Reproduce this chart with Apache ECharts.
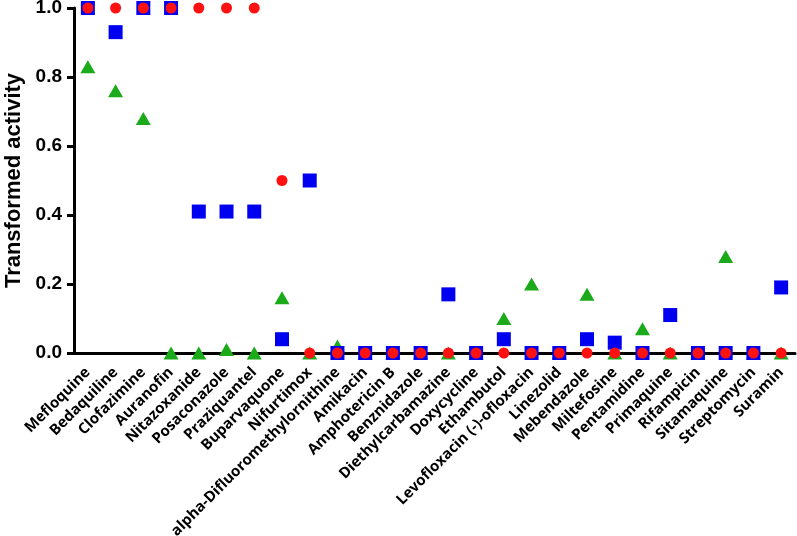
<!DOCTYPE html>
<html>
<head>
<meta charset="utf-8">
<script src="https://cdn.jsdelivr.net/npm/echarts@6/dist/echarts.min.js"></script>
<style>html,body{margin:0;padding:0;background:#fff}#c{width:797px;height:536px}</style>
</head>
<body>
<div id="c"></div>
<script>
var categories = ["Mefloquine","Bedaquiline","Clofazimine","Auranofin","Nitazoxanide","Posaconazole","Praziquantel","Buparvaquone","Nifurtimox","alpha-Difluoromethylornithine","Amikacin","Amphotericin B","Benznidazole","Diethylcarbamazine","Doxycycline","Ethambutol","Levofloxacin (-)-ofloxacin","Linezolid","Mebendazole","Miltefosine","Pentamidine","Primaquine","Rifampicin","Sitamaquine","Streptomycin","Suramin"];
var triangleValues = [0.83,0.76,0.68,0,0,0.01,0,0.16,0,0.02,0,0,0,0,0,0.10,0.20,0,0.17,0,0.07,0,0,0.28,0,0];
var squareValues = [1.0,0.93,1.0,1.0,0.41,0.41,0.41,0.04,0.50,0,0,0,0,0.17,0,0.04,0,0,0.04,0.03,0,0.11,0,0,0,0.19];
var circleValues = [1.0,1.0,1.0,1.0,1.0,1.0,1.0,0.5,0,0,0,0,0,0,0,0,0,0,0,0,0,0,0,0,0,0];
var yTicks = ["0.0","0.2","0.4","0.6","0.8","1.0"];

var chart = echarts.init(document.getElementById('c'), null, {renderer:'canvas'});
var catFont = "'Open Sans', 'Noto Sans', sans-serif";
var numFont = "'Liberation Sans', Arial, sans-serif";
chart.setOption({
  animation: false,
  grid: {left: 74, right: 2, top: 8, bottom: 183, containLabel: false, outerBoundsMode: 'none'},
  xAxis: {
    type: 'category',
    data: categories,
    boundaryGap: true,
    axisLine: {lineStyle: {color: '#000', width: 3}},
    axisTick: {alignWithLabel: true, length: 8, lineStyle: {color: '#000', width: 3}},
    axisLabel: {interval: 0, rotate: 45, margin: 17, color: '#000', fontWeight: 'bold', fontSize: 15, fontFamily: catFont}
  },
  yAxis: {
    type: 'value',
    min: 0, max: 1, interval: 0.2,
    name: 'Transformed activity',
    nameLocation: 'middle',
    nameGap: 48,
    nameTextStyle: {color: '#000', fontWeight: 'bold', fontSize: 22, fontFamily: numFont},
    splitLine: {show: false},
    axisLine: {show: true, lineStyle: {color: '#000', width: 3}},
    axisTick: {show: true, length: 7, lineStyle: {color: '#000', width: 3}},
    axisLabel: {color: '#000', fontWeight: 'bold', fontSize: 19, fontFamily: numFont, margin: 12,
      formatter: function(v){ return yTicks[Math.round(v/0.2)]; }}
  },
  series: [
    {type: 'scatter', data: triangleValues, symbol: 'triangle', symbolSize: [15, 13], itemStyle: {color: '#1aaa1a', opacity: 1}, z: 2},
    {type: 'scatter', data: squareValues, symbol: 'rect', symbolSize: 14, itemStyle: {color: '#0000f0', opacity: 1}, z: 3},
    {type: 'scatter', data: circleValues, symbol: 'circle', symbolSize: 11, itemStyle: {color: '#ff1111', opacity: 1}, z: 4}
  ]
});
</script>
</body>
</html>
